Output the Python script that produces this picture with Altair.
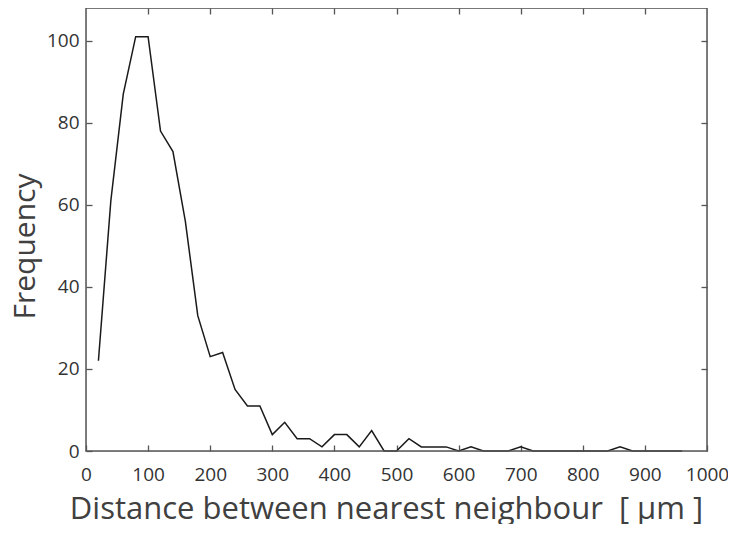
import altair as alt
import pandas as pd

distance = [20, 40, 60, 80, 100, 120, 140, 160, 180, 200, 220, 240, 260, 280, 300,
            320, 340, 360, 380, 400, 420, 440, 460, 480, 500, 520, 540, 560, 580, 600,
            620, 640, 660, 680, 700, 720, 740, 760, 780, 800, 820, 840, 860, 880, 900,
            920, 940, 960]
frequency = [22, 61, 87, 101, 101, 78, 73, 56, 33, 23, 24, 15, 11, 11, 4,
             7, 3, 3, 1, 4, 4, 1, 5, 0, 0, 3, 1, 1, 1, 0,
             1, 0, 0, 0, 1, 0, 0, 0, 0, 0, 0, 0, 1, 0, 0,
             0, 0, 0]
x_ticks = [0, 100, 200, 300, 400, 500, 600, 700, 800, 900, 1000]
y_ticks = [0, 20, 40, 60, 80, 100]

df = pd.DataFrame({"d": distance, "f": frequency})

FONT = "Open Sans"
TS = 6
W, H = 621, 443
AX = "#555555"

xs = alt.Scale(domain=[0, 1000], nice=False)
ys = alt.Scale(domain=[0, 108], nice=False)

base = alt.Chart(df)

line = base.mark_line(color="#1a1a1a", strokeWidth=1.5).encode(
    x=alt.X("d:Q", scale=xs, axis=alt.Axis(
        values=x_ticks, orient="bottom", offset=-TS, tickSize=TS, domain=False,
        grid=False, labelPadding=14, labelFontSize=19, labelColor="#333333",
        labelFont=FONT, tickColor=AX, tickWidth=1.3, labelFlush=False, format="d",
        title="Distance between nearest neighbour\u00a0\u00a0[ µm ]", titleFont=FONT,
        titleFontSize=31, titleFontWeight="normal", titleColor="#404040",
        titleX=300, titleY=73, titleBaseline="alphabetic")),
    y=alt.Y("f:Q", scale=ys, axis=alt.Axis(
        values=y_ticks, orient="left", offset=-TS, tickSize=TS, domain=False,
        grid=False, labelPadding=7, labelFontSize=19, labelColor="#333333",
        labelFont=FONT, tickColor=AX, tickWidth=1.3, labelFlush=False,
        title="Frequency", titleFont=FONT, titleFontSize=30,
        titleFontWeight="normal", titleColor="#404040",
        titleX=-58, titleY=238, titleAngle=-90, titleBaseline="alphabetic")),
)

mirror = base.mark_line(opacity=0).encode(
    x=alt.X("d:Q", scale=xs, axis=alt.Axis(
        values=x_ticks[1:-1], orient="top", offset=-TS, tickSize=TS, domain=False,
        grid=False, labels=False, title=None, tickColor=AX, tickWidth=1.3)),
    y=alt.Y("f:Q", scale=ys, axis=alt.Axis(
        values=y_ticks[1:], orient="right", offset=-TS, tickSize=TS, domain=False,
        grid=False, labels=False, title=None, tickColor=AX, tickWidth=1.3)),
)

frame = alt.Chart(pd.DataFrame({"k": [0]})).mark_rect(
    fill=None, stroke=AX, strokeWidth=1.5
).encode(x=alt.value(0), x2=alt.value(W), y=alt.value(0), y2=alt.value(H))

chart = alt.layer(line, mirror, frame).resolve_axis(x="independent", y="independent").properties(
    width=W, height=H,
    autosize=alt.AutoSizeParams(type="none"),
    padding={"left": 78, "top": 0, "right": 21, "bottom": 73},
).configure_view(stroke=None).configure(background="white")

chart.save("out.html", embed_options={"renderer": "svg", "actions": False})
